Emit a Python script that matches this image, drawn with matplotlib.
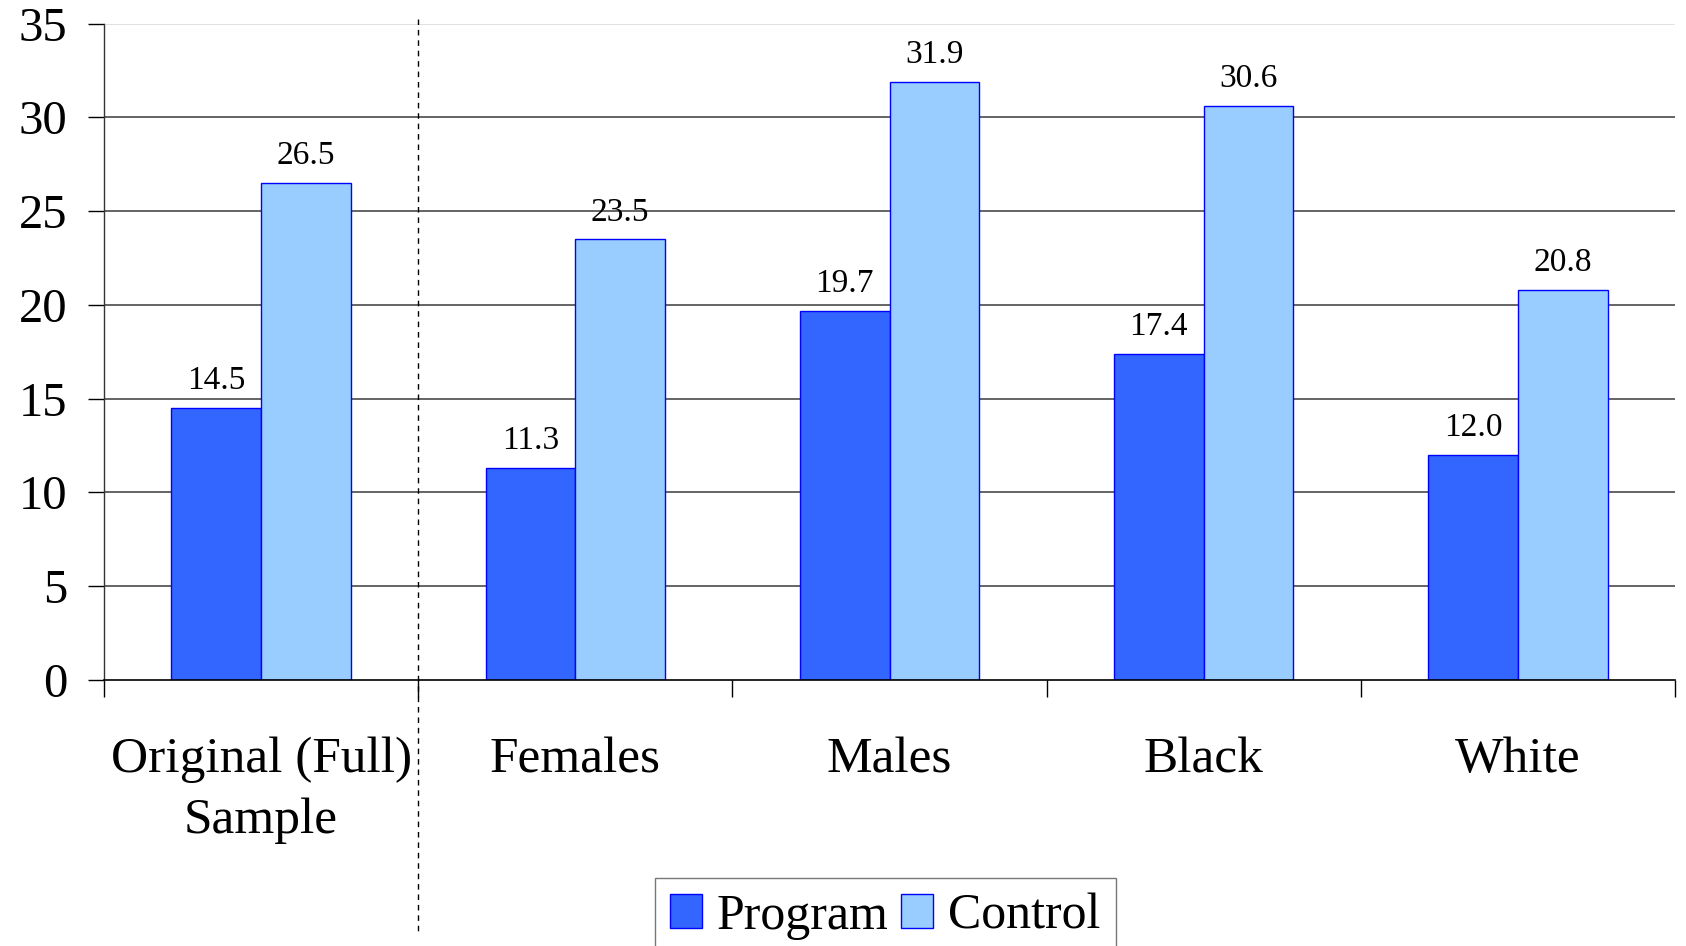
import matplotlib
matplotlib.use("Agg")
import matplotlib.pyplot as plt
import matplotlib.transforms as mtransforms
from matplotlib.patches import Patch
import numpy as np

categories = ["Original (Full)\nSample", "Females", "Males", "Black", "White"]
program = [14.5, 11.3, 19.7, 17.4, 12.0]
control = [26.5, 23.5, 31.9, 30.6, 20.8]
series_names = ["Program", "Control"]
y_ticks = [0, 5, 10, 15, 20, 25, 30, 35]

plt.rcParams["font.family"] = ["Liberation Serif", "DejaVu Serif"]

fig = plt.figure(figsize=(16.86, 9.46), dpi=100)
ax = fig.add_axes([104 / 1686, 1 - 680 / 946, (1675 - 104) / 1686, (680 - 23.7) / 946])

x = np.arange(len(categories))
width = 1 / 3.5
prog_color, ctrl_color, edge = "#3366FF", "#99CCFF", "#0000FF"

b1 = ax.bar(x - width / 2, program, width, color=prog_color, edgecolor=edge, linewidth=1.0, zorder=3)
b2 = ax.bar(x + width / 2, control, width, color=ctrl_color, edgecolor=edge, linewidth=1.0, zorder=3)

for bars, vals in ((b1, program), (b2, control)):
    for rect, v in zip(bars, vals):
        ax.annotate(f"{v:.1f}", (rect.get_x() + rect.get_width() / 2, v),
                    xytext=(0, 13.5), textcoords="offset points",
                    ha="center", va="baseline", fontsize=24, zorder=4)

ax.set_xlim(-0.5, len(categories) - 0.5)
ax.set_ylim(0, 35)

# horizontal gridlines
for t in y_ticks[1:]:
    ax.axhline(t, color="#d9d9d9" if t == 35 else "#3a3a3a", linewidth=1.1, zorder=1)

ax.set_yticks(y_ticks)
ax.set_yticklabels([str(t) for t in y_ticks], fontsize=35)
ax.tick_params(axis="y", direction="out", length=11.5, width=1.0, pad=15, colors="black")

ax.set_xticks(x)
ax.set_xticklabels(categories, fontsize=37, linespacing=1.4)
ax.set_xticks(np.arange(-0.5, len(categories), 1.0), minor=True)
ax.tick_params(axis="x", which="major", length=0, pad=41)
ax.tick_params(axis="x", which="minor", direction="out", length=12, width=1.0, color="black")

for s in ("top", "right"):
    ax.spines[s].set_visible(False)
ax.spines["left"].set_color("#333333")
ax.spines["bottom"].set_color("black")
ax.spines["left"].set_linewidth(1.0)
ax.spines["bottom"].set_linewidth(1.2)
ax.spines["bottom"].set_zorder(5)

# dashed separator between the full sample and the subgroups
trans = mtransforms.blended_transform_factory(ax.transData, ax.transAxes)
ax.plot([0.5, 0.5], [1.007, -0.384], transform=trans, color="black",
        linestyle=(0, (4, 3.5)), linewidth=1.0, clip_on=False, zorder=2)

handles = [Patch(facecolor=prog_color, edgecolor=edge, linewidth=1.0),
           Patch(facecolor=ctrl_color, edgecolor=edge, linewidth=1.0)]
leg = fig.legend(handles, series_names, loc="upper left",
                 bbox_to_anchor=(655 / 1686, 1 - 878 / 946), borderaxespad=0,
                 ncol=2, fontsize=36, frameon=True, fancybox=False,
                 handlelength=0.64, handleheight=0.66, handletextpad=0.3,
                 columnspacing=0.25, borderpad=0.3)
leg.get_frame().set_edgecolor("#555555")
leg.get_frame().set_linewidth(1.0)

fig.savefig("out.png", dpi=100)
